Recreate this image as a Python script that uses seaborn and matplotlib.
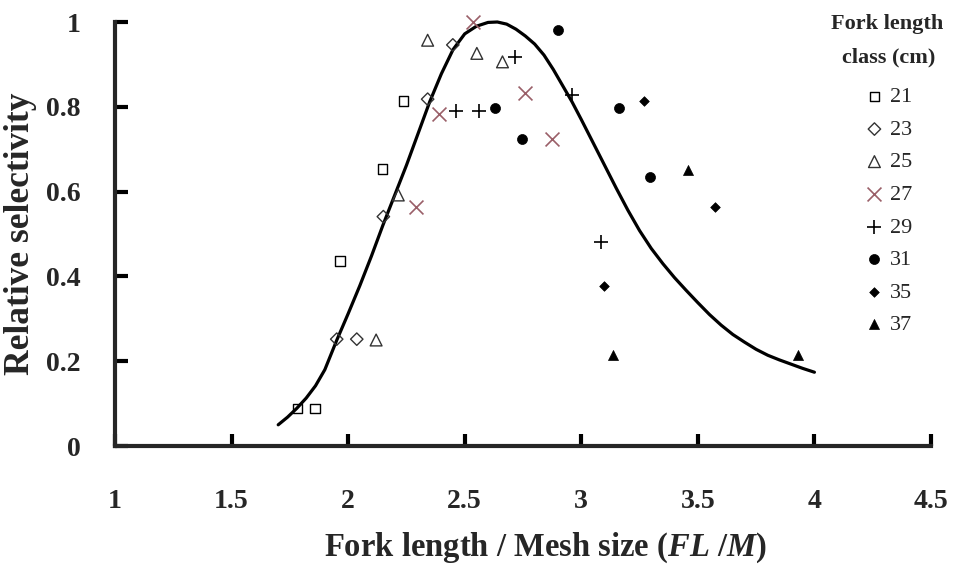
import matplotlib
matplotlib.use("Agg")
import matplotlib.pyplot as plt
import seaborn as sns
import numpy as np

# Observed relative selectivity by fork length class (FL/M, selectivity)
classes = ['21', '23', '25', '27', '29', '31', '35', '37']

x21 = [1.784, 1.858, 1.965, 2.147, 2.237]
y21 = [0.089, 0.089, 0.436, 0.653, 0.814]
x23 = [1.951, 2.037, 2.151, 2.341, 2.449]
y23 = [0.252, 0.252, 0.541, 0.818, 0.946]
x25 = [2.120, 2.215, 2.341, 2.552, 2.662]
y25 = [0.250, 0.592, 0.957, 0.926, 0.906]
x27 = [2.290, 2.390, 2.537, 2.759, 2.873]
y27 = [0.564, 0.783, 1.000, 0.832, 0.723]
x29 = [2.462, 2.562, 2.716, 2.959, 3.085]
y29 = [0.789, 0.789, 0.917, 0.828, 0.480]
x31 = [2.630, 2.744, 2.898, 3.162, 3.295]
y31 = [0.796, 0.723, 0.981, 0.796, 0.635]
x35 = [3.098, 3.271, 3.574]
y35 = [0.377, 0.814, 0.564]
x37 = [3.135, 3.457, 3.931]
y37 = [0.215, 0.651, 0.215]

# Fitted selectivity curve
curve_x = [1.70, 1.74, 1.78, 1.82, 1.86, 1.90, 1.95, 2.00, 2.05, 2.10, 2.15,
           2.20, 2.25, 2.30, 2.35, 2.40, 2.45, 2.50, 2.55, 2.60, 2.64, 2.68,
           2.72, 2.76, 2.80, 2.84, 2.88, 2.92, 2.96, 3.00, 3.05, 3.10, 3.15,
           3.20, 3.25, 3.30, 3.35, 3.40, 3.45, 3.50, 3.55, 3.60, 3.65, 3.70,
           3.75, 3.80, 3.85, 3.90, 3.95, 4.00]
curve_y = [0.050, 0.068, 0.089, 0.113, 0.142, 0.180, 0.248, 0.312, 0.378, 0.448, 0.522,
           0.592, 0.662, 0.737, 0.812, 0.878, 0.935, 0.972, 0.990, 0.999, 1.000, 0.995,
           0.983, 0.967, 0.948, 0.922, 0.888, 0.850, 0.812, 0.770, 0.716, 0.662, 0.608,
           0.556, 0.508, 0.466, 0.430, 0.397, 0.367, 0.338, 0.310, 0.285, 0.263, 0.245,
           0.228, 0.214, 0.203, 0.193, 0.183, 0.174]

xticks = [1, 1.5, 2, 2.5, 3, 3.5, 4, 4.5]
xticklabels = ['1', '1.5', '2', '2.5', '3', '3.5', '4', '4.5']
yticks = [0, 0.2, 0.4, 0.6, 0.8, 1.0]
yticklabels = ['0', '0.2', '0.4', '0.6', '0.8', '1']

sns.set_style('ticks')
plt.rcParams['font.family'] = ['Liberation Serif', 'DejaVu Serif']
plt.rcParams['mathtext.fontset'] = 'custom'
plt.rcParams['mathtext.it'] = 'Liberation Serif:italic:bold'
plt.rcParams['mathtext.rm'] = 'Liberation Serif:bold'

fig = plt.figure(figsize=(9.54, 5.67), dpi=100)
ax = fig.add_axes([115 / 954, 1 - 446 / 567, 816 / 954, 424 / 567])

# marker, size, facecolor, edgecolor, linewidth
styles = {
    '21': ('s', 45, 'none', 'black', 1.0),
    '23': ('D', 40, 'none', '#333333', 1.0),
    '25': ('^', 72, 'none', '#333333', 1.0),
    '27': ('x', 100, '#9a5f68', '#9a5f68', 1.2),
    '29': ('+', 100, 'black', 'black', 1.2),
    '31': ('o', 52, 'black', 'black', 0.5),
    '35': ('D', 24, 'black', 'black', 0.5),
    '37': ('^', 52, 'black', 'black', 0.5),
}
data = {'21': (x21, y21), '23': (x23, y23), '25': (x25, y25), '27': (x27, y27),
        '29': (x29, y29), '31': (x31, y31), '35': (x35, y35), '37': (x37, y37)}

sns.lineplot(x=curve_x, y=curve_y, sort=False, estimator=None, color='black',
             linewidth=2.3, ax=ax, zorder=2, clip_on=False, solid_joinstyle='round')

for c in classes:
    m, s, fc, ec, lw = styles[c]
    xs, ys = data[c]
    if m in ('x', '+'):
        sns.scatterplot(x=xs, y=ys, marker=m, s=s, color=ec, linewidth=lw,
                        label=c, ax=ax, zorder=3, clip_on=False)
    else:
        sns.scatterplot(x=xs, y=ys, marker=m, s=s, facecolor=fc, edgecolor=ec,
                        linewidth=lw, label=c, ax=ax, zorder=3, clip_on=False)

ax.set_xlim(1, 4.5)
ax.set_ylim(0, 1)
ax.set_xticks(xticks)
ax.set_xticklabels(xticklabels)
ax.set_yticks(yticks)
ax.set_yticklabels(yticklabels)
for lab in ax.get_xticklabels() + ax.get_yticklabels():
    lab.set_fontweight('bold')
    lab.set_fontsize(20)

sns.despine(ax=ax)
for sp in ['left', 'bottom']:
    ax.spines[sp].set_linewidth(3)
ax.tick_params(axis='both', direction='in', length=9, width=3, color='black')
ax.tick_params(axis='x', pad=31)
ax.tick_params(axis='y', pad=25)

ax.set_xlabel('Fork length / Mesh size ($\\mathit{FL}$ /$\\mathit{M}$)',
              fontsize=23.5, fontweight='bold')
ax.xaxis.set_label_coords(0.527, -0.200)
ax.set_ylabel('Relative selectivity', fontsize=25.5, fontweight='bold')
ax.yaxis.set_label_coords(-0.095, 0.5)

# legend title as two lines of text, entries below
fig.text(887 / 954, 1 - 29 / 567, 'Fork length', ha='center', va='baseline',
         fontsize=16, fontweight='bold')
fig.text(889 / 954, 1 - 62 / 567, 'class (cm)', ha='center', va='baseline',
         fontsize=16, fontweight='bold')
leg = ax.legend(loc='center', bbox_to_anchor=(890 / 954, 1 - 211 / 567),
                bbox_transform=fig.transFigure, frameon=False, borderpad=0,
                handlelength=0.6, handletextpad=0.4, labelspacing=0.54, fontsize=16)

fig.savefig('out.png', dpi=100)
